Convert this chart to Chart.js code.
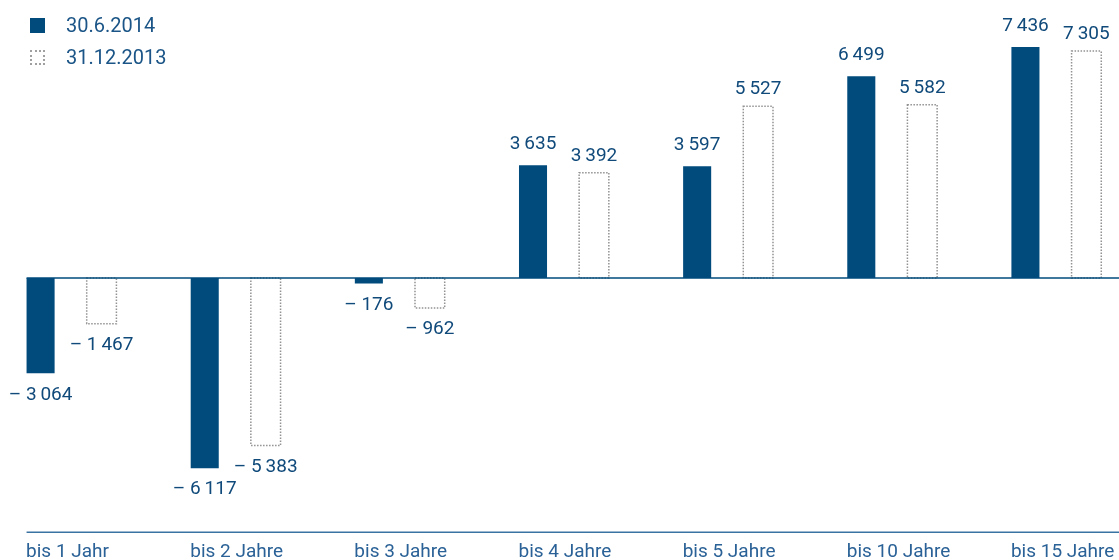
<!DOCTYPE html>
<html>
<head>
<meta charset="utf-8">
<script src="https://cdn.jsdelivr.net/npm/chart.js@4.4.1/dist/chart.umd.min.js"></script>
<style>
    html, body { margin: 0; padding: 0; width: 1119px; height: 560px; overflow: hidden; background: #fff; font-family: Roboto, sans-serif; }
    #wrap { position: absolute; left: -11px; top: 0; width: 1149px; height: 573px; }
    #chart { display: block; }
    .legend { position: absolute; left: 30px; top: 9px; color: #1b5587; font-size: 20px; line-height: 32px; }
    .legend div { display: flex; align-items: center; }
    .legend span.box { display: inline-block; width: 15px; height: 15px; margin-right: 21px; box-sizing: border-box; }
    .legend .dark { background: #004a7c; }
    .legend .dotted { border: 2px dotted #a0a0a0; }
</style>
</head>
<body>
<div id="wrap"><canvas id="chart" width="1149" height="573"></canvas></div>
<div class="legend">
    <div><span class="box dark"></span>30.6.2014</div>
    <div><span class="box dotted"></span>31.12.2013</div>
</div>
<script>
const categories = ['bis 1 Jahr', 'bis 2 Jahre', 'bis 3 Jahre', 'bis 4 Jahre', 'bis 5 Jahre', 'bis 10 Jahre', 'bis 15 Jahre'];
const june2014 = [-3064, -6117, -176, 3635, 3597, 6499, 7436];
const dec2013 = [-1467, -5383, -962, 3392, 5527, 5582, 7305];

const BLUE = '#004a7c';
const TEXT = '#104a7b';

// thin space as thousands separator, en dash for negatives
function fmt(v) {
    const s = Math.abs(v).toString().replace(/\B(?=(\d{3})+(?!\d))/g, '\u2009');
    return v < 0 ? '\u2013 ' + s : s;
}

const decor = {
    id: 'decor',
    afterDatasetsDraw(chart) {
        const ctx = chart.ctx;
        const area = chart.chartArea;
        const zeroY = chart.scales.y.getPixelForValue(0);
        const dark = chart.getDatasetMeta(0).data;
        const outline = chart.getDatasetMeta(1).data;

        // dotted outline bars
        ctx.save();
        ctx.strokeStyle = '#929292';
        ctx.lineWidth = 1.5;
        ctx.setLineDash([1.5, 1.5]);
        outline.forEach(bar => {
            const top = Math.min(bar.y, bar.base);
            ctx.strokeRect(bar.x - bar.width / 2 + 1, top, bar.width - 2, Math.abs(bar.base - bar.y));
        });
        ctx.restore();

        // zero line + bottom line
        const left = dark[0].x - dark[0].width / 2;
        ctx.save();
        ctx.strokeStyle = BLUE;
        ctx.lineWidth = 1.5;
        ctx.beginPath();
        ctx.moveTo(left, zeroY);
        ctx.lineTo(area.right, zeroY);
        ctx.stroke();
        ctx.strokeStyle = '#3a72a2';
        ctx.beginPath();
        ctx.moveTo(left, area.bottom);
        ctx.lineTo(area.right, area.bottom);
        ctx.stroke();
        ctx.restore();

        // value labels
        ctx.save();
        ctx.font = '19px Roboto';
        ctx.fillStyle = TEXT;
        ctx.textAlign = 'center';
        [[dark, june2014, 16], [outline, dec2013, 12]].forEach(([bars, vals, gap]) => {
            bars.forEach((bar, i) => {
                const v = vals[i];
                if (v >= 0) {
                    ctx.textBaseline = 'alphabetic';
                    ctx.fillText(fmt(v), bar.x, bar.y - gap);
                } else {
                    ctx.textBaseline = 'top';
                    ctx.fillText(fmt(v), bar.x, bar.y + 12);
                }
            });
        });
        ctx.restore();
    }
};

new Chart(document.getElementById('chart'), {
    type: 'bar',
    data: {
        labels: categories,
        datasets: [{
            label: '30.6.2014',
            data: june2014,
            backgroundColor: BLUE,
            borderWidth: 0,
            barPercentage: 0.46,
            categoryPercentage: 0.743
        }, {
            label: '31.12.2013',
            data: dec2013,
            backgroundColor: 'rgba(0,0,0,0)',
            borderWidth: 0,
            barPercentage: 0.52,
            categoryPercentage: 0.743
        }]
    },
    options: {
        responsive: false,
        animation: false,
        layout: { padding: 0 },
        plugins: { legend: { display: false }, tooltip: { enabled: false } },
        scales: {
            x: {
                grid: { display: false, drawTicks: false },
                border: { display: false },
                afterFit(scale) {
                    scale.paddingLeft = 0;
                    scale.paddingRight = 0;
                },
                ticks: {
                    align: 'start',
                    labelOffset: -45,
                    padding: 9,
                    autoSkip: false,
                    maxRotation: 0,
                    color: '#2a6196',
                    font: { family: 'Roboto', size: 19 }
                }
            },
            y: { display: false, min: -8176, max: 8949 }
        }
    },
    plugins: [decor]
});
</script>
</body>
</html>
